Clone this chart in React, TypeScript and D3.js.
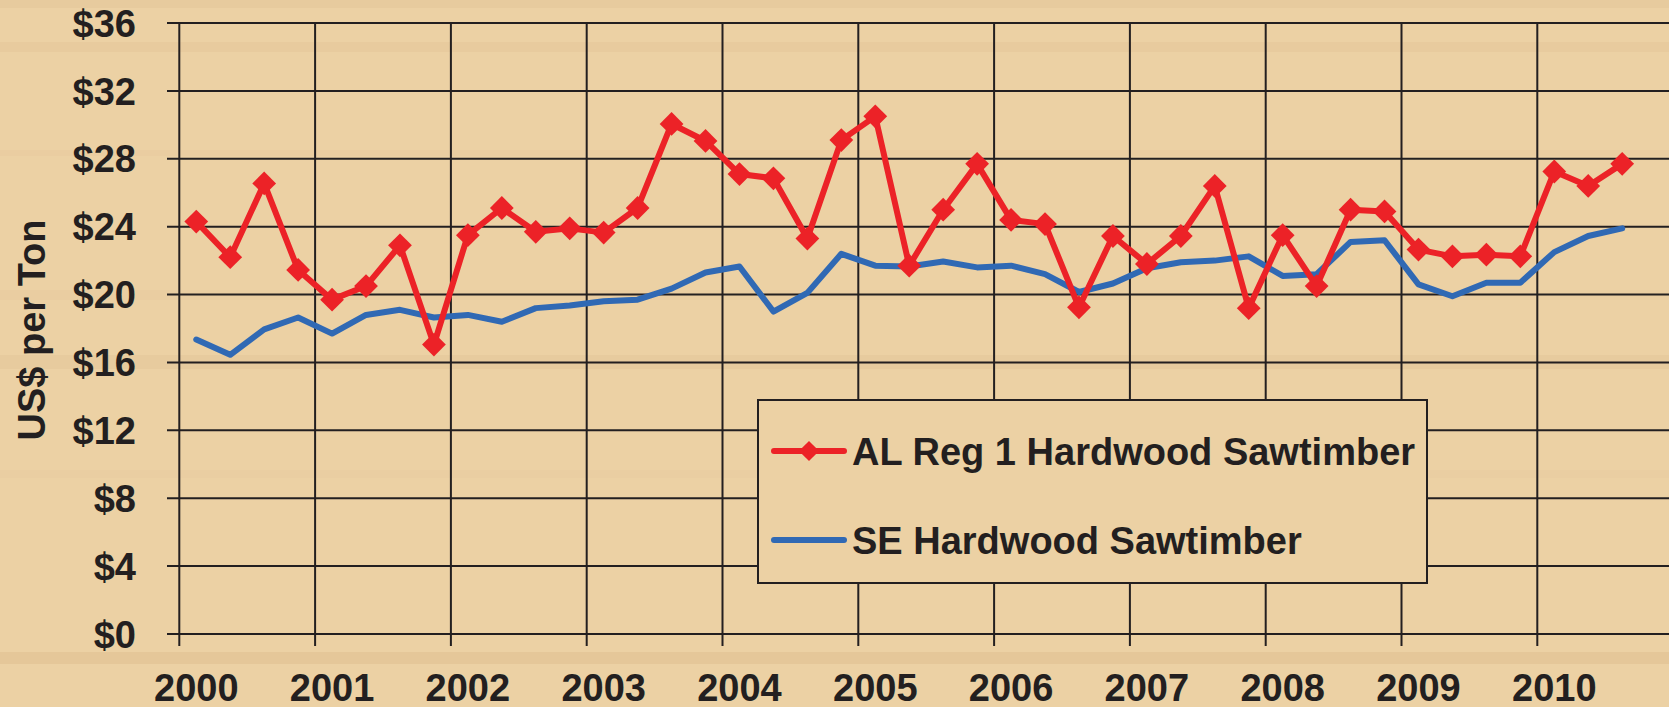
import React from "react";
import * as d3 from "d3";

// ---- data ----
const years = [2000, 2001, 2002, 2003, 2004, 2005, 2006, 2007, 2008, 2009, 2010];
const quarters = [
  "2000Q1","2000Q2","2000Q3","2000Q4",
  "2001Q1","2001Q2","2001Q3","2001Q4",
  "2002Q1","2002Q2","2002Q3","2002Q4",
  "2003Q1","2003Q2","2003Q3","2003Q4",
  "2004Q1","2004Q2","2004Q3","2004Q4",
  "2005Q1","2005Q2","2005Q3","2005Q4",
  "2006Q1","2006Q2","2006Q3","2006Q4",
  "2007Q1","2007Q2","2007Q3","2007Q4",
  "2008Q1","2008Q2","2008Q3","2008Q4",
  "2009Q1","2009Q2","2009Q3","2009Q4",
  "2010Q1","2010Q2","2010Q3",
];
const alReg1 = [
  24.3, 22.2, 26.55, 21.45,
  19.7, 20.5, 22.9, 17.05,
  23.5, 25.1, 23.7, 23.9,
  23.65, 25.1, 30.05, 29.05,
  27.1, 26.85, 23.3, 29.1,
  30.5, 21.7, 25.0, 27.7,
  24.4, 24.15, 19.25, 23.45,
  21.8, 23.45, 26.4, 19.2,
  23.5, 20.5, 25.0, 24.9,
  22.65, 22.25, 22.35, 22.25,
  27.25, 26.4, 27.7,
];
const seHardwood = [
  17.35, 16.45, 17.95, 18.65,
  17.7, 18.8, 19.1, 18.65,
  18.8, 18.4, 19.2, 19.35,
  19.6, 19.7, 20.35, 21.3,
  21.65, 19.0, 20.1, 22.4,
  21.7, 21.65, 21.95, 21.6,
  21.7, 21.2, 20.15, 20.65,
  21.55, 21.9, 22.0, 22.25,
  21.1, 21.2, 23.1, 23.2,
  20.6, 19.9, 20.7, 20.7,
  22.5, 23.45, 23.9,
];
const yTicks = [0, 4, 8, 12, 16, 20, 24, 28, 32, 36];
const seriesNames = ["AL Reg 1 Hardwood Sawtimber", "SE Hardwood Sawtimber"];
const yTitle = "US$ per Ton";

// ---- styles ----
const W = 1669;
const H = 707;
const BG = "#ECD1A4";
const INK = "#231F20";
const RED = "#EC2227";
const BLUE = "#3069B4";
const FONT = "'Liberation Sans', Arial, Helvetica, sans-serif";

const t = (q: string) => +q.slice(0, 4) + (+q.slice(5) - 0.5) / 4;

export default function App() {
  const x = d3.scaleLinear().domain([2000, 2011]).range([179.3, 179.3 + 11 * 135.8]);
  const y = d3.scaleLinear().domain([0, 36]).range([634, 23]);

  const line = d3
    .line<number>()
    .x((_, i) => x(t(quarters[i])))
    .y((d) => y(d));

  const diamond = d3.symbol().type(d3.symbolDiamond2).size(360)();
  const legendDiamond = d3.symbol().type(d3.symbolDiamond2).size(260)();

  // decorative wood-grain bands
  const bands = [
    { y: 0, h: 8, o: 0.2 },
    { y: 42, h: 10, o: 0.18 },
    { y: 150, h: 6, o: 0.1 },
    { y: 290, h: 10, o: 0.1 },
    { y: 355, h: 14, o: 0.2 },
    { y: 470, h: 8, o: 0.08 },
    { y: 652, h: 12, o: 0.35 },
  ];

  return (
    <svg
      width={W}
      height={H}
      style={{ position: "absolute", left: 0, top: 0, display: "block" }}
      fontFamily={FONT}
    >
      <rect x={0} y={0} width={W} height={H} fill={BG} />
      {bands.map((b, i) => (
        <rect key={i} x={0} y={b.y} width={W} height={b.h} fill="#D9B486" opacity={b.o} />
      ))}

      {/* horizontal gridlines */}
      {yTicks.map((v) => (
        <line key={"h" + v} x1={167} x2={W} y1={y(v)} y2={y(v)} stroke={INK} strokeWidth={2} />
      ))}
      {/* vertical gridlines */}
      {years.map((yr) => (
        <line key={"v" + yr} x1={x(yr)} x2={x(yr)} y1={y(36)} y2={646} stroke={INK} strokeWidth={2} />
      ))}

      {/* y tick labels */}
      {yTicks.map((v) => (
        <text
          key={"yl" + v}
          x={136}
          y={y(v)}
          dy="0.36em"
          textAnchor="end"
          fontSize={38}
          fontWeight="bold"
          fill={INK}
        >
          {"$" + v}
        </text>
      ))}
      {/* x tick labels */}
      {years.map((yr) => (
        <text
          key={"xl" + yr}
          x={x(yr + 0.125)}
          y={701}
          textAnchor="middle"
          fontSize={38}
          fontWeight="bold"
          fill={INK}
        >
          {yr}
        </text>
      ))}
      {/* y title */}
      <text
        transform={`translate(45, 330) rotate(-90)`}
        textAnchor="middle"
        fontSize={38}
        fontWeight="bold"
        fill={INK}
      >
        {yTitle}
      </text>

      {/* series */}
      <path d={line(seHardwood) || ""} fill="none" stroke={BLUE} strokeWidth={6} strokeLinejoin="round" strokeLinecap="round" />
      <path d={line(alReg1) || ""} fill="none" stroke={RED} strokeWidth={6} strokeLinejoin="round" />
      {alReg1.map((v, i) => (
        <path key={"d" + i} d={diamond || ""} transform={`translate(${x(t(quarters[i]))},${y(v)})`} fill={RED} />
      ))}

      {/* legend */}
      <rect x={758} y={400} width={669} height={183} fill={BG} stroke={INK} strokeWidth={2} />
      <line x1={774} x2={844} y1={451} y2={451} stroke={RED} strokeWidth={6} strokeLinecap="round" />
      <path d={legendDiamond || ""} transform="translate(809,451)" fill={RED} />
      <text x={852} y={451} dy="0.36em" fontSize={38} fontWeight="bold" fill={INK}>
        {seriesNames[0]}
      </text>
      <line x1={774} x2={844} y1={540} y2={540} stroke={BLUE} strokeWidth={6} strokeLinecap="round" />
      <text x={852} y={540} dy="0.36em" fontSize={38} fontWeight="bold" fill={INK}>
        {seriesNames[1]}
      </text>
    </svg>
  );
}
